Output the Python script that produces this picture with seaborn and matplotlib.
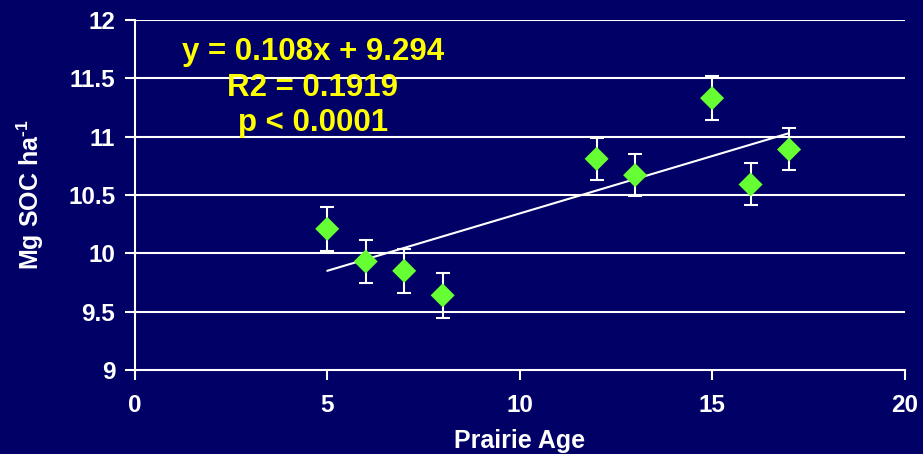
import numpy as np
import pandas as pd
import matplotlib
matplotlib.use("Agg")
import matplotlib.pyplot as plt
import seaborn as sns

# values
prairie_age = [5, 6, 7, 8, 12, 13, 15, 16, 17]
soc_mean = [10.21, 9.93, 9.85, 9.64, 10.81, 10.67, 11.33, 10.59, 10.89]
soc_err = [0.19, 0.18, 0.19, 0.19, 0.18, 0.18, 0.19, 0.18, 0.18]
trend_x = [5, 17]
trend_y = [9.85, 11.03]

bg = "#000066"
green = "#66FF33"
yellow = "#FFFF00"

sns.set_style("white", {"axes.facecolor": bg, "figure.facecolor": bg})
plt.rcParams["font.family"] = ["Liberation Sans", "DejaVu Sans"]
plt.rcParams["font.weight"] = "bold"
plt.rcParams["mathtext.fontset"] = "custom"
plt.rcParams["mathtext.rm"] = "Liberation Sans:bold"

df = pd.DataFrame({"age": prairie_age, "soc": soc_mean, "err": soc_err})

fig = plt.figure(figsize=(9.23, 4.54), dpi=100)
ax = fig.add_axes([0.146, 0.185, 0.834, 0.771])

for yv in np.arange(9.5, 12.01, 0.5):
    ax.axhline(yv, color="white", lw=1.5, zorder=1)

ax.plot(trend_x, trend_y, color="white", lw=1.5, zorder=2)
ax.errorbar(df["age"], df["soc"], yerr=df["err"], fmt="none", ecolor="white",
            elinewidth=1.5, capsize=5, capthick=1.5, zorder=3)
sns.scatterplot(data=df, x="age", y="soc", marker="D", color=green, s=150,
                edgecolor="none", ax=ax, zorder=4)

ax.set_xlim(0, 20)
ax.set_ylim(9, 12)
ax.set_xticks([0, 5, 10, 15, 20])
ax.set_yticks([9, 9.5, 10, 10.5, 11, 11.5, 12])
ax.set_yticklabels(["9", "9.5", "10", "10.5", "11", "11.5", "12"])

for s in ["top", "right"]:
    ax.spines[s].set_visible(False)
for s in ["left", "bottom"]:
    ax.spines[s].set_color("white")
    ax.spines[s].set_linewidth(1.5)

ax.tick_params(axis="both", colors="white", direction="out", length=7, width=1.5,
               labelsize=17.5, left=True, bottom=True)
ax.tick_params(axis="x", pad=10)
ax.tick_params(axis="y", pad=7)
for lab in ax.get_xticklabels() + ax.get_yticklabels():
    lab.set_fontweight("bold")

ax.set_xlabel("Prairie Age", color="white", fontsize=18, fontweight="bold", labelpad=9)
ax.set_ylabel(r"Mg SOC ha$^{\text{-1}}$", color="white", fontsize=18, fontweight="bold", labelpad=16)

ax.text(4.62, 11.42, "y = 0.108x + 9.294\nR2 = 0.1919\np < 0.0001", color=yellow,
        fontsize=22.5, fontweight="bold", ha="center", va="center", linespacing=1.25, zorder=5)

fig.savefig("out.png", dpi=100, facecolor=bg)
